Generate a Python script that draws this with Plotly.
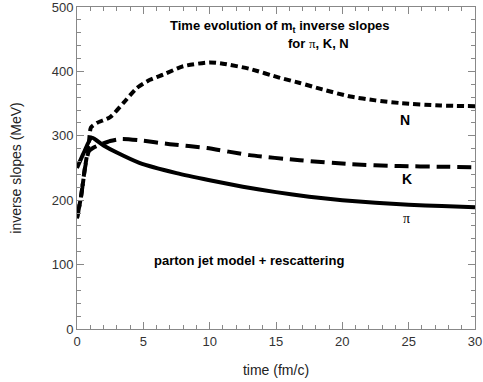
import plotly.graph_objects as go

# values
t_pi = [0, 0.5, 1.1, 2, 3, 4.7, 7.5, 10, 12.5, 15, 17.5, 20, 22.5, 25, 27.5, 30]
v_pi = [250, 273, 297, 285, 274, 258, 242, 231, 221, 212.5, 205.5, 200, 196, 193, 191, 189]

t_k = [0, 0.3, 0.6, 0.9, 1.2, 1.6, 2.5, 3.3, 4.7, 7, 9.8, 13, 16.8, 20.6, 24.3, 27.5, 30]
v_k = [172, 205, 250, 276, 281, 285, 292, 295, 293, 287, 281, 270, 262, 256, 253, 252, 251]

t_n = [0, 0.3, 0.6, 0.9, 1.05, 1.5, 2.5, 3.5, 4.5, 5.5, 6.5, 8, 10, 11, 13, 15.3, 16.8, 18.5, 20.6, 22.5, 24.3, 27.4, 30]
v_n = [172, 205, 250, 290, 313, 320, 329, 351, 374, 387, 395, 408, 414, 412, 404, 390, 382, 372, 361, 355, 351, 347, 346]

FONT = "Arial, Liberation Sans, sans-serif"

fig = go.Figure()
fig.add_trace(go.Scatter(x=t_n, y=v_n, mode="lines", line=dict(color="black", width=4, dash="7px,4px", shape="spline", smoothing=0.6), name="N"))
fig.add_trace(go.Scatter(x=t_k, y=v_k, mode="lines", line=dict(color="black", width=4, dash="14px,7px", shape="spline", smoothing=0.6), name="K"))
fig.add_trace(go.Scatter(x=t_pi, y=v_pi, mode="lines", line=dict(color="black", width=4, shape="spline", smoothing=0.6), name="pi"))

axis = dict(showgrid=False, zeroline=False, showline=True, linecolor="#888", linewidth=1,
            mirror="allticks", ticks="inside", ticklen=7, tickcolor="#888",
            ticklabeloverflow="allow", automargin=False,
            tickfont=dict(family=FONT, size=13, color="#333"))

fig.update_xaxes(**axis, range=[0, 30], dtick=5, tick0=0,
                 minor=dict(dtick=1, ticks="inside", ticklen=4, tickcolor="#888"),
                 title=dict(text="time (fm/c)", font=dict(family=FONT, size=14, color="#222"), standoff=17))
fig.update_yaxes(**axis, range=[0, 500], dtick=100, tick0=0,
                 minor=dict(dtick=20, ticks="inside", ticklen=4, tickcolor="#888"),
                 title=dict(text="inverse slopes (MeV)", font=dict(family=FONT, size=14, color="#222"), standoff=26))

bold = dict(family=FONT, size=13, color="black")
notes = [
    (15.3, 470, "<b>Time evolution of m<sub>t</sub> inverse slopes</b>", bold),
    (18.2, 444, "<b>for </b><span style='font-family:Liberation Serif'>π</span><b>, K, N</b>", bold),
    (24.7, 325, "<b>N</b>", dict(family=FONT, size=14, color="black")),
    (24.9, 233, "<b>K</b>", dict(family=FONT, size=14, color="black")),
    (24.8, 172, "π", dict(family="Liberation Serif, serif", size=14, color="black")),
    (13.0, 107, "<b>parton jet model + rescattering</b>", bold),
]
for x, y, txt, f in notes:
    fig.add_annotation(x=x, y=y, text=txt, showarrow=False, font=f)

fig.update_layout(width=483, height=382, margin=dict(l=77, r=8, t=7, b=53),
                  plot_bgcolor="white", paper_bgcolor="white", showlegend=False)

# page body has a default 8px margin; drop it so the figure sits at the window origin
fig.write_html("out.html", config={"displayModeBar": False},
               post_script="document.body.style.margin='0px';")
